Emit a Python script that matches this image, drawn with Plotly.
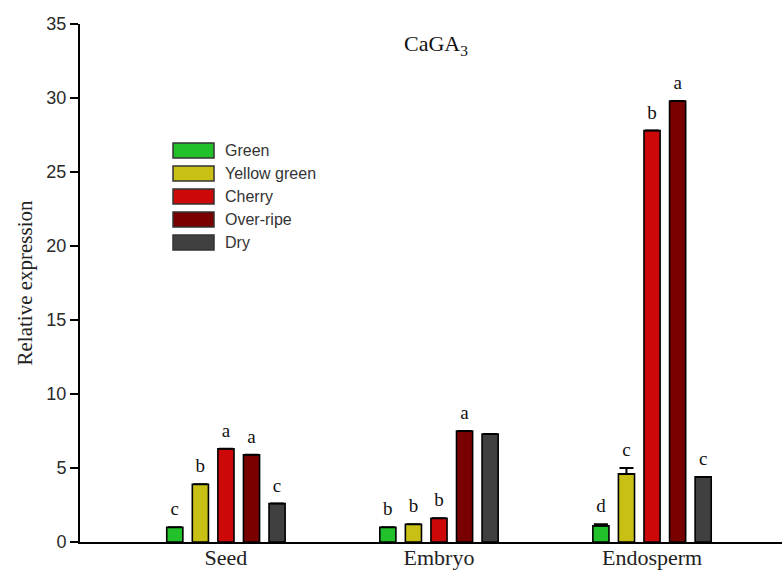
import plotly.graph_objects as go

categories = ["Seed", "Embryo", "Endosperm"]
series_names = ["Green", "Yellow green", "Cherry", "Over-ripe", "Dry"]
green = [1.0, 1.0, 1.1]
yellow_green = [3.9, 1.2, 4.6]
cherry = [6.3, 1.6, 27.8]
over_ripe = [5.9, 7.5, 29.8]
dry = [2.6, 7.3, 4.4]
values = [green, yellow_green, cherry, over_ripe, dry]
errors = [[0, 0, 0.1], [0, 0, 0.4], [0, 0, 0], [0, 0, 0], [0, 0, 0]]
letters = [["c", "b", "d"], ["b", "b", "c"], ["a", "b", "b"], ["a", "a", "a"], ["c", "", "c"]]
y_ticks = [0, 5, 10, 15, 20, 25, 30, 35]

colors = ["#22c02a", "#c8c014", "#cc0808", "#780000", "#404040"]
SERIF = "Liberation Serif, Times New Roman, serif"
SANS = "Liberation Sans, Arial, sans-serif"

fig = go.Figure()
for i, name in enumerate(series_names):
    fig.add_trace(go.Bar(
        x=categories, y=values[i], name=name, offsetgroup=str(i),
        marker=dict(color=colors[i], line=dict(color="black", width=1.6)),
        error_y=dict(type="data", array=errors[i], arrayminus=[0, 0, 0],
                     color="black", thickness=2, width=7),
        showlegend=False,
    ))
for i, name in enumerate(series_names):
    fig.add_trace(go.Scatter(
        x=categories, y=[v + e for v, e in zip(values[i], errors[i])],
        text=letters[i], mode="markers+text", textposition="top center",
        marker=dict(size=10, color="rgba(0,0,0,0)"),
        offsetgroup=str(i), textfont=dict(family=SERIF, size=19, color="#111111"),
        showlegend=False, hoverinfo="skip", cliponaxis=False,
    ))

# custom legend (wide patches)
leg_top = 0.7558
leg_step = 23.0 / 518
for i, name in enumerate(series_names):
    yc = leg_top - i * leg_step
    fig.add_shape(type="rect", xref="paper", yref="paper",
                  x0=0.1325, x1=0.1909, y0=yc - 0.0145, y1=yc + 0.0145,
                  fillcolor=colors[i], line=dict(color="#333333", width=1.5))
    fig.add_annotation(xref="paper", yref="paper", x=0.2037, y=yc, text=name,
                       showarrow=False, xanchor="left", yanchor="middle",
                       font=dict(family=SANS, size=16, color="#333333"))

fig.add_annotation(xref="paper", yref="paper", x=0.507, y=0.959,
                   xanchor="center", yanchor="middle",
                   text="CaGA<sub>3</sub>", showarrow=False,
                   font=dict(family=SERIF, size=22, color="#111111"))

fig.update_layout(
    width=782, height=570,
    margin=dict(l=80, r=0, t=24, b=28),
    paper_bgcolor="white", plot_bgcolor="white",
    barmode="group", bargap=0.4, bargroupgap=0.37,
    scattermode="group", scattergap=0.4,
    showlegend=False,
    xaxis=dict(range=[-0.685, 2.61], showline=True, linecolor="black", linewidth=2,
               ticks="", showgrid=False, zeroline=False, automargin=False,
               ticklabelstandoff=-5,
               tickfont=dict(family=SERIF, size=22, color="#222222")),
    yaxis=dict(range=[0, 35], tickvals=y_ticks, showline=True, linecolor="black",
               linewidth=2, ticks="outside", ticklen=8, tickwidth=1.5,
               tickcolor="black", showgrid=False, zeroline=False, automargin=False,
               tickfont=dict(family=SANS, size=18, color="#2a2a2a"),
               title=dict(text="Relative expression", standoff=8,
                          font=dict(family=SERIF, size=21, color="#222222"))),
)

fig.write_html("out.html", config={"displayModeBar": False},
               post_script="document.body.style.margin='0';document.body.style.overflow='hidden';")
